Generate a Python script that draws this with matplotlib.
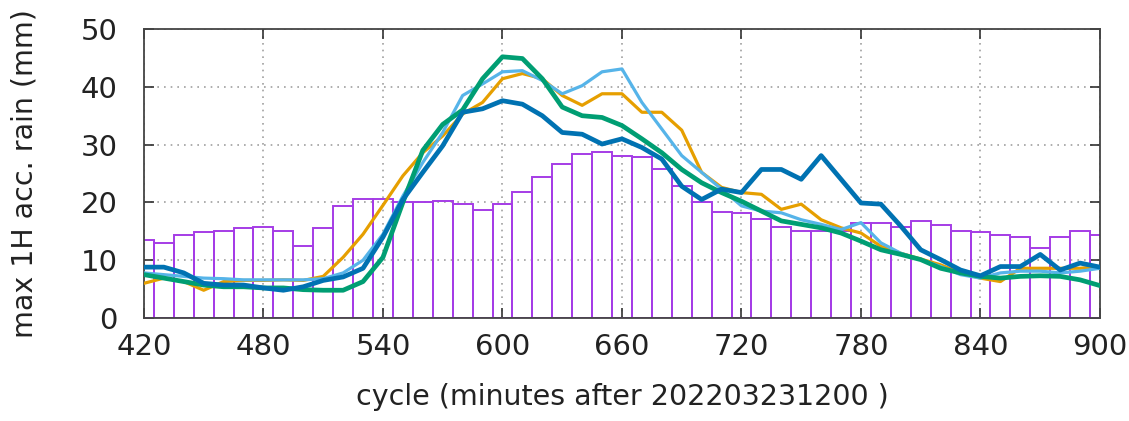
import numpy as np
import matplotlib
matplotlib.use("Agg")
import matplotlib.pyplot as plt

# cycle times (minutes after 202203231200)
cycle = np.arange(420, 901, 10)

# observed max 1H accumulated rain (bars)
obs = [13.5, 13.0, 14.4, 14.8, 15.1, 15.6, 15.8, 15.1, 12.5, 15.6,
       19.4, 20.6, 20.6, 20.0, 20.0, 20.3, 19.8, 18.7, 19.8, 21.8,
       24.4, 26.6, 28.4, 28.7, 28.1, 27.8, 25.7, 22.8, 20.0, 18.4,
       18.1, 17.1, 15.8, 15.1, 15.1, 15.1, 16.4, 16.4, 15.7, 16.8,
       16.1, 15.1, 14.8, 14.4, 14.0, 12.1, 14.0, 15.1, 14.4]

# forecast runs
run_orange = [6.0, 6.9, 6.3, 4.8, 6.3, 6.5, 6.5, 6.6, 6.5, 7.2,
              10.5, 14.5, 19.5, 24.6, 28.6, 31.5, 35.3, 37.3, 41.4, 42.3,
              41.4, 38.5, 36.8, 38.8, 38.8, 35.6, 35.6, 32.5, 25.2, 22.6,
              21.7, 21.4, 18.8, 19.7, 17.0, 15.6, 14.7, 12.4, 11.2, 10.2,
              9.2, 7.8, 6.9, 6.3, 8.6, 8.6, 8.6, 8.6, 8.9]
run_lightblue = [7.8, 7.5, 7.2, 6.9, 6.8, 6.6, 6.6, 6.6, 6.6, 6.8,
                 7.8, 10.0, 14.5, 21.1, 26.9, 32.1, 38.5, 40.5, 42.6, 42.8,
                 41.1, 38.8, 40.2, 42.6, 43.1, 37.3, 32.7, 28.1, 25.2, 22.3,
                 19.4, 18.5, 18.2, 17.0, 16.2, 15.3, 16.5, 13.0, 11.2, 10.1,
                 8.9, 7.5, 6.9, 7.8, 8.1, 8.1, 7.8, 8.1, 8.6]
run_green = [7.5, 6.9, 6.3, 5.7, 5.4, 5.4, 5.2, 5.2, 4.9, 4.8,
             4.8, 6.3, 10.5, 20.0, 29.0, 33.5, 36.0, 41.4, 45.2, 44.9,
             41.4, 36.5, 35.0, 34.7, 33.3, 31.0, 28.6, 25.7, 23.4, 21.7,
             20.2, 18.5, 16.8, 16.2, 15.6, 14.7, 13.3, 11.8, 11.0, 10.1,
             8.6, 7.8, 7.2, 6.9, 7.2, 7.3, 7.2, 6.6, 5.6]
run_darkblue = [8.8, 8.8, 7.8, 6.0, 5.7, 5.7, 5.2, 4.8, 5.4, 6.5,
                7.1, 8.6, 14.0, 20.5, 25.2, 29.8, 35.6, 36.2, 37.6, 37.0,
                35.0, 32.1, 31.8, 30.1, 31.0, 29.5, 27.5, 22.8, 20.5, 22.3,
                21.7, 25.7, 25.7, 24.0, 28.1, 24.0, 19.9, 19.7, 15.9, 11.8,
                10.1, 8.3, 7.3, 8.9, 8.9, 11.0, 8.3, 9.5, 8.8]

xticks = np.arange(420, 901, 60)
yticks = np.arange(0, 51, 10)

fig = plt.figure(figsize=(11.29, 4.21), dpi=100)
ax = fig.add_axes([0.1275, 0.2447, 0.8468, 0.6863])

ax.bar(cycle, obs, width=10, fill=False, edgecolor="#a53ce6", linewidth=1.4, zorder=2)

ax.plot(cycle, run_orange, color="#e69f00", lw=2.3, zorder=3)
ax.plot(cycle, run_lightblue, color="#56b4e9", lw=2.3, zorder=3)
ax.plot(cycle, run_green, color="#009e73", lw=3.4, zorder=3)
ax.plot(cycle, run_darkblue, color="#0072b2", lw=3.4, zorder=4)

ax.set_xlim(420, 900)
ax.set_ylim(0, 50)
ax.set_xticks(xticks)
ax.set_yticks(yticks)
ax.grid(True, color="#a0a0a0", linestyle=(0, (1, 3)), linewidth=1.2, zorder=1)

ax.tick_params(direction="in", top=True, right=True, length=7, width=1.2,
               color="#333333", labelsize=21, labelcolor="#222222")
ax.tick_params(axis="y", pad=19)
ax.tick_params(axis="x", pad=11)
for s in ax.spines.values():
    s.set_color("#444444")
    s.set_linewidth(1.3)

ax.set_xlabel("cycle (minutes after 202203231200 )", fontsize=20.5, labelpad=16, color="#222222")
ax.set_ylabel("max 1H acc. rain (mm)", fontsize=20.5, labelpad=30, color="#222222")

fig.savefig("out.png", dpi=100)
